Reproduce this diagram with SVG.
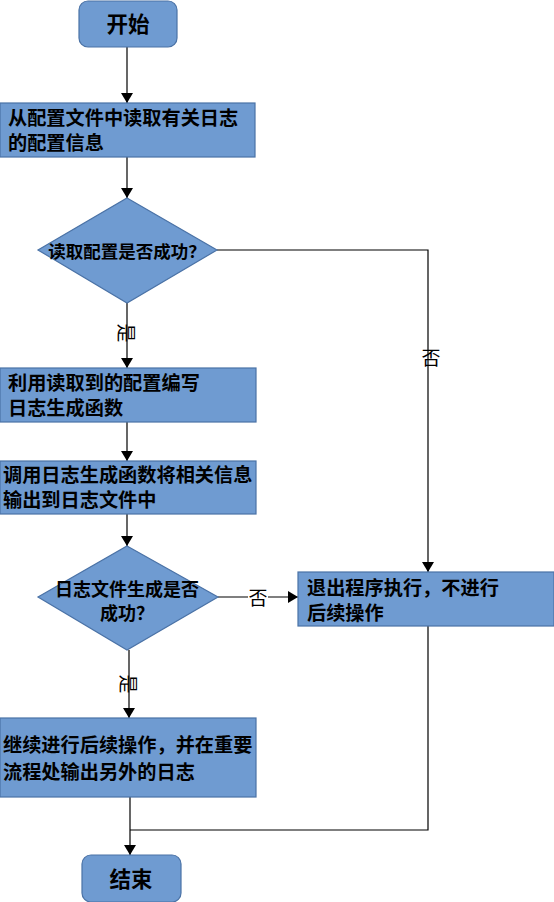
<svg xmlns="http://www.w3.org/2000/svg" width="554" height="902" viewBox="0 0 554 902">
<style>
.n{fill:#6f9bd1;stroke:#4a72a6;stroke-width:1.2}
.t{font-family:"Noto Sans CJK SC","Liberation Sans",sans-serif;font-weight:bold;font-size:19.2px;fill:#000}
.c{text-anchor:middle}
.e{stroke:#000;stroke-width:1.2;fill:none}
.l{font-family:"Noto Sans CJK SC","Liberation Sans",sans-serif;font-size:19px;fill:#000;text-anchor:middle}
</style>
<defs>
<marker id="a" markerWidth="10" markerHeight="12" refX="10" refY="6" orient="auto" markerUnits="userSpaceOnUse">
<path d="M0,0 L10,6 L0,12 Z" fill="#000"/>
</marker>
</defs>
<rect width="554" height="902" fill="#fff"/>
<g id="edges">
<line class="e" x1="127" y1="47" x2="127" y2="103" marker-end="url(#a)"/>
<line class="e" x1="127" y1="157" x2="127" y2="198" marker-end="url(#a)"/>
<polyline class="e" points="217,250 428,250 428,572" marker-end="url(#a)"/>
<line class="e" x1="127" y1="303" x2="127" y2="368" marker-end="url(#a)"/>
<line class="e" x1="127" y1="422" x2="127" y2="461" marker-end="url(#a)"/>
<line class="e" x1="127" y1="514" x2="127" y2="546" marker-end="url(#a)"/>
<line class="e" x1="218" y1="597" x2="298" y2="597" marker-end="url(#a)"/>
<line class="e" x1="129" y1="650" x2="129" y2="718" marker-end="url(#a)"/>
<polyline class="e" points="428,626 428,830 130,830"/>
<line class="e" x1="130" y1="797" x2="130" y2="855" marker-end="url(#a)"/>
<g id="edge-labels">
<text class="l" x="431" y="365">否</text>
<rect x="248" y="588" width="20" height="20" fill="#fff"/>
<text class="l" x="258" y="605">否</text>
<text class="l" transform="translate(126,333) rotate(90)" y="7">是</text>
<text class="l" transform="translate(128,684) rotate(90)" y="7">是</text>
</g>
</g>
<g id="start">
<rect class="n" x="79" y="1" width="98" height="46" rx="9"/>
<text class="t c" x="128" y="32" style="font-size:21.5px">开始</text>
</g>
<g id="read-config">
<rect class="n" x="0" y="103" width="255" height="54"/>
<text class="t" x="8" y="125">从配置文件中读取有关日志</text>
<text class="t" x="8" y="150">的配置信息</text>
</g>
<g id="check-read">
<polygon class="n" points="127,198 217,250 127,303 38,250"/>
<text class="t c" x="127" y="258" style="font-size:17.5px">读取配置是否成功？</text>
</g>
<g id="write-func">
<rect class="n" x="0" y="368" width="256" height="54"/>
<text class="t" x="8" y="390">利用读取到的配置编写</text>
<text class="t" x="8" y="415">日志生成函数</text>
</g>
<g id="call-func">
<rect class="n" x="0" y="461" width="256" height="53"/>
<text class="t" x="3" y="482">调用日志生成函数将相关信息</text>
<text class="t" x="3" y="507">输出到日志文件中</text>
</g>
<g id="check-log">
<polygon class="n" points="127,546 218,597 127,650 38,597"/>
<text class="t c" x="127" y="596" style="font-size:18px">日志文件生成是否</text>
<text class="t c" x="127" y="620" style="font-size:18px">成功？</text>
</g>
<g id="exit">
<rect class="n" x="298" y="572" width="256" height="54"/>
<text class="t" x="307" y="595">退出程序执行，不进行</text>
<text class="t" x="307" y="620">后续操作</text>
</g>
<g id="continue">
<rect class="n" x="0" y="718" width="256" height="79"/>
<text class="t" x="3" y="752">继续进行后续操作，并在重要</text>
<text class="t" x="3" y="779">流程处输出另外的日志</text>
</g>
<g id="end">
<rect class="n" x="82" y="855" width="99" height="47" rx="9"/>
<text class="t c" x="131" y="887" style="font-size:21.5px">结束</text>
</g>
</svg>
